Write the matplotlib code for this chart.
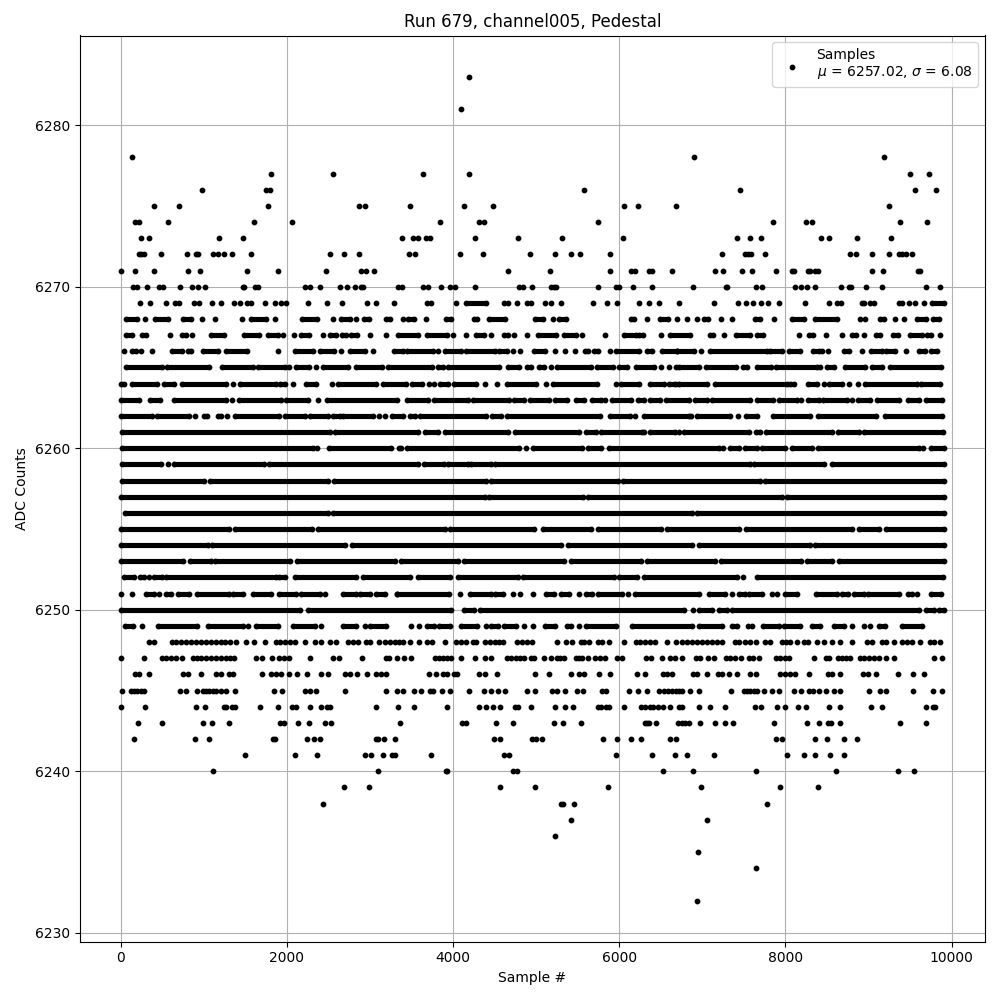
#!/usr/bin/env python3
"""Pedestal scatter: ADC counts per sample, read off the picture row by row."""
import matplotlib
matplotlib.use('Agg')
import matplotlib.pyplot as plt

# sample numbers seen at each ADC level
# a plain number is one visible dot, (a, b) is a stretch where the dots merge
s6283 = [4192]
s6281 = [4096]
s6278 = [141, 6900, 9189]
s6277 = [1807, 2555, 3641, 4192, 9502, 9731]
s6276 = [974, 1750, 1799, 5581, 7454, 9562, 9815]
s6275 = [406, 696, 1771, 2869, 2942, 3485, 4132, 4479, 6060, 6228, 6683, 9249]
s6274 = [173, 222, 575, 1601, 2060, 3844, 4311, 4375, 5748, 7851, 8249, 8321, 9381, 9707]
s6273 = [249, 346, 1179, 1469, 3389, 3521, 3581, 3673, 3721, 4263, 4778, 5317, 6040, 7418, 7574, 7707,
         8430, 8526, 8863, 9273]
s6272 = [221, 249, 282, 491, 793, 905, 933, 1107, 1171, 1243, 1336, 1565, 2519, 2688, 2869, 3473, 3545,
         4084, 4359, 4922, 5222, 5414, 5533, 5892, 7237, 7510, 7550, 7590, 7751, 8779, 8851, 9044, 9249,
         9365, 9405, 9446, 9518]
s6271 = [0, 177, 406, 805, 950, 1517, 1891, 2471, 2893, 2958, 3050, 4659, 5162, 5892, 6136, 6188, 6355,
         6395, 6639, 7153, 7249, 7478, 7598, 7888, 8080, 8104, 8273, 8297, 8361, 8393, 9044, 9177, 9598, 9622]
s6270 = [149, 201, 322, 463, 511, 708, 857, 925, 1014, 1469, 1489, 1614, 1654, 2217, 2278, 2398, 2640,
         2724, 2821, 2893, 2917, 3340, 3385, 3633, 3697, 3852, 3960, 4024, 4263, 4798, 4838, 4946, 5174,
         5210, 5238, 5748, 5964, 5996, 6168, 6395, 6892, 7285, 7301, 7647, 7719, 8116, 8189, 8261, 8357,
         8671, 8767, 8791, 8972, 9165, 9695, 9863]
s6269 = [229, 358, 551, 656, 696, 885, 938, 1095, 1203, 1368, 1441, 1517, 1565, 1734, 1863, 1928, 1992,
         2257, 2483, 2664, 2966, 3074, 3292, 3689, 3737, 4036, (4152, 4391), 4619, 4659, 4766, 4886, 4938,
         5110, 5178, 5305, 5689, 5856, 5976, 6240, 6359, 6479, 6720, 7145, 7430, 7526, 7610, 7707, 7791,
         7924, 8241, 8526, 8622, 8675, 8916, 8944, 9016, 9072, 9373, 9406, 9486, 9554, 9671, (9767, 9907)]
s6268 = [(68, 201), 298, (414, 575), (752, 845), 974, 1131, 1465, (1565, 1750), 1859, (2181, 2362), 2555,
         (2656, 2756), 2829, (2925, 2990), (3199, 3247), 3401, (3461, 3533), 3677, (3920, 3980), (4248, 4287),
         (4431, 4631), (4982, 5078), 5198, (5277, 5357), (6136, 6176), 6335, (6491, 6587), 6690, 6815, 6936,
         (7016, 7068), 7225, 7357, (7631, 7699), 7863, (8080, 8221), (8361, 8622), 8892, 8956, (9144, 9185),
         9317, 9430, (9586, 9687), (9779, 9847)]
s6267 = [(68, 141), (262, 310), 588, (732, 785), 857, (1086, 1247), (1489, 1670), (1771, 1891), 1952, 2080,
         (2173, 2261), 2434, (2515, 2596), (2664, 2716), (2777, 2845), 3002, 3195, (3341, 3581), (3689, 3928),
         4000, 4156, (4271, 4367), 4455, (4611, 4659), 4730, 4886, (5018, 5238), (5337, 5485), 5557, 5832,
         (6056, 6196), (6235, 6287), 6503, (6615, 6855), 7096, 7128, 7261, (7410, 7578), (7659, 7731), 8161,
         (8281, 8329), 8490, 8683, (8803, 8851), 8948, (9092, 9133), (9293, 9357), (9494, 9647), (9707, 9755), 9859]
s6266 = [40, (141, 189), 249, 378, (612, 736), (805, 845), (986, 1167), (1268, 1517), 1891, (2101, 2314),
         (2394, 2563), 2656, (2756, 2938), 3038, (3292, 3401), (3441, 3760), 3820, (3900, 4100), (4152, 4511),
         (4559, 4647), 4726, 4806, (4970, 5106), 5230, 5345, 5465, (5589, 5629), (5697, 5749), 5892,
         (5956, 6235), (6335, 6395), (6515, 6695), (6695, 6896), 6984, (7096, 7779), (7819, 7960), (8040, 8181),
         (8329, 8402), 8442, 8514, (8703, 8763), 8924, (9032, 9165), (9205, 9325), 9454, (9614, 9679), (9747, 9819)]
s6265 = [(68, 503), (563, 1066), (1219, 1597), (1650, 1972), 2028, (2113, 2261), 2346, (2434, 2736),
         (2829, 3139), (3219, 3752), (3820, 3880), (3940, 4559), (4667, 4790), (4886, 4938), (5038, 5098), 5174,
         (5257, 5657), (5737, 5924), (5996, 6096), (6196, 6415), 6503, 6595, 6680, (6723, 6964), (7044, 7406),
         (7486, 7538), (7659, 7831), (7892, 8382), 8422, (8502, 8582), (8723, 8964), (9044, 9165), (9265, 9867)]
s6264 = [(0, 40), (133, 443), (523, 636), (736, 1268), 1348, (1437, 1871), (1919, 1972), 2076, (2225, 2354),
         2547, (2616, 3078), (3159, 3433), (3501, 3621), 3713, 3772, (3840, 3940), (4008, 4271), 4383, 4527,
         (4647, 4998), 5118, (5198, 5737), 5956, (6016, 6235), (6375, 6535), (6595, 6715), (6675, 7056),
         (7157, 8020), (8060, 8100), (8273, 8382), 8466, (8530, 8683), 8767, 8875, (8964, 9586), (9634, 9855)]
s6263 = [(0, 221), (350, 471), (644, 1268), 1336, (1421, 1932), (1992, 2253), 2374, (2487, 3321), (3441, 3701),
         (3772, 4180), (4240, 4679), (4738, 4858), (4926, 5158), (5230, 5377), (5485, 5577), (5669, 5777), 5828,
         (5908, 6136), (6228, 6295), (6375, 6495), (6563, 6835), (6916, 7056), (7116, 7578), (7659, 7847),
         (7928, 8141), 8193, (8273, 8402), (8450, 8743), 8803, (8875, 9024), (9104, 9365), (9478, 9606), (9695, 9888)]
s6262 = [(0, 382), (443, 825), 893, (1002, 1034), (1167, 1207), 1276, (1380, 1911), (1972, 2213), (2273, 2495),
         (2555, 2636), (2676, 3038), 3110, 3179, (3271, 3401), (3481, 3541), (3601, 4399), (4471, 4579),
         (4647, 5765), (5884, 6124), 6192, (6295, 6835), 6864, (6936, 7337), 7430, (7526, 7659), (7847, 8301),
         (8390, 9092), (9197, 9879)]
s6261 = [(20, 2515), (2575, 3581), (3661, 3820), (3900, 4659), (4750, 5517), (5597, 5717), (5777, 6275), 6303,
         (6375, 6675), 6723, (6775, 7558), (7647, 7699), (7767, 8562), (8634, 8884), (8944, 9895)]
s6260 = [(12, 2314), 2362, (2507, 3259), 3350, 3369, (3441, 4798), 4878, (4958, 5557), (5629, 5777), (5876, 7197),
         7249, (7337, 7438), (7510, 7659), (7719, 8000), (8080, 8321), (8390, 9606), 9659, (9747, 9907)]
s6259 = [(12, 483), 571, (644, 1730), (1783, 3581), (3653, 3888), (3940, 4180), (4220, 4459), (4499, 7578),
         (7618, 8462), (8562, 9907)]
s6258 = [(20, 1000), (1080, 2500), (2570, 4400), (4460, 5980), (6040, 7700), (7760, 9907)]
s6257 = [(0, 4380), (4430, 5560), (5620, 7960), (8020, 9907)]
s6256 = [(50, 2500), (2560, 6880), (6940, 9907)]
s6255 = [(0, 1300), (1380, 2300), (2370, 3900), (3960, 4980), (5080, 5660), (5740, 6500), (6580, 7440),
         (7520, 8800), (8880, 9130), (9210, 9907)]
s6254 = [(0, 1050), (1100, 2700), (2780, 5300), (5380, 6880), (6960, 8300), (8360, 9907)]
s6253 = [(0, 750), (830, 1090), (1140, 2040), (2120, 3300), (3370, 4060), (4130, 5340), (5420, 6260),
         (6340, 7150), (7230, 8190), (8260, 8560), (8640, 9907)]
s6252 = [(40, 161), (229, 282), 342, (402, 503), (551, 1871), (1911, 1972), (2093, 2837), (2917, 3481),
         (3581, 3960), (4060, 4778), (4846, 5936), (5996, 6215), (6295, 7418), 7486, (7659, 9900)]
s6251 = [0, 141, (302, 402), 463, (543, 604), (684, 825), (913, 1308), (1356, 1469), (1597, 1811), (1911, 2105),
         (2173, 2394), 2455, (2676, 2837), (2877, 2998), (3070, 3179), 3320, (3329, 3952), 4088, (4200, 4459),
         (4511, 4607), 4719, 4802, 4966, (5118, 5218), (5297, 5397), 5521, (5605, 5677), (5749, 6036), 6108,
         (6188, 6956), (7076, 7277), 7357, (7446, 7518), (7566, 7719), 7839, 7904, (8000, 8141), (8369, 8622),
         (8683, 8755), (8823, 8944), (8996, 9365), (9478, 9526), 9586, (9751, 9867)]
s6250 = [(0, 2153), (2253, 3980), (4128, 4248), (4327, 6775), 6884, (6956, 7116), (7197, 7297), (7357, 9606),
         (9687, 9787), (9847, 9907)]
s6249 = [(52, 149), 258, (455, 913), (1046, 1469), 1529, (1630, 1891), (2073, 2334), 2414, (2676, 2837), 2938,
         (2998, 3199), 3497, 3593, (3681, 3768), (3832, 3960), (4100, 4287), 4399, (4459, 4539), (4619, 4758),
         4858, 4966, (5110, 5230), (5377, 5417), 5517, (5597, 5956), (6156, 6876), (6956, 7237), (7357, 7418),
         7550, 7598, (7727, 7920), (7980, 8181), (8321, 8422), (8582, 8703), 8803, 8944, 9016, (9124, 9197),
         (9406, 9647)]
s6248 = [342, 402, 612, 664, 724, 785, 845, 905, 966, 1026, 1086, 1147, 1207, 1259, 1316, 1388, 1509, 1601, 1742,
         1871, 1919, 1972, 2032, 2101, 2221, 2334, 2414, 2515, 2596, 2736, 2797, 2857, 2949, 2998, 3110, 3179,
         3239, 3300, 3352, 3401, 3481, 3593, 3681, 3741, 3900, 4032, 4092, 4152, 4240, 4279, 4379, 4439, 4499,
         4559, 4607, 4766, 4826, 4886, 4950, 5257, 5357, 5429, 5537, 5577, 5637, 5748, 5796, 5876, 6056, 6196,
         6255, 6315, 6375, 6435, 6575, 6683, 6755, 6815, 6876, 6936, 6996, 7056, 7116, 7177, 7237, 7390, 7446,
         7510, 7578, 7647, 7759, 7819, 7960, 8008, 8060, 8141, 8221, 8273, 8382, 8462, 8562, 8663, 8803, 8984,
         9044, 9165, 9213, 9309, 9406, 9466, 9526, 9626, 9735, 9787, 9855]
s6247 = [8, 286, 495, 551, 604, 664, 732, 865, 913, 966, 1026, 1086, 1147, 1207, 1268, 1316, 1368, 1634, 1702,
         1819, 1911, 1960, 2024, 2274, 2555, 2628, 2905, 3199, 3231, 3328, 3413, 3497, 3788, 3832, 3880, 3928,
         3980, 4096, 4263, 4383, 4455, 4647, 4699, 4758, 4806, 4858, 4938, 4978, 5090, 5174, 5246, 5285, 5337,
         5477, 5517, 5557, 5629, 5709, 5764, 5828, 5976, 6036, 6323, 6387, 6515, 6607, 6667, 6755, 6924, 6976,
         7068, 7145, 7285, 7337, 7397, 7462, 7558, 7606, 7679, 7888, 7940, 8000, 8048, 8341, 8490, 8530, 8634,
         8683, 8731, 8783, 8892, 8944, 9004, 9064, 9124, 9205, 9309, 9791, 9879]
s6246 = [173, 221, 342, 752, 805, 962, 1147, 1211, 1308, 1356, 1698, 1815, 1871, 1932, 2024, 2121, 2241, 2406,
         2499, 2700, 2756, 2845, 2962, 3078, 3130, 3195, 3713, 3796, 3880, 3928, 4008, 4052, 4311, 4379, 4527,
         4982, 5150, 5425, 5517, 5577, 5760, 5892, 6215, 6311, 6527, 6575, 6635, 6892, 6936, 7052, 7189, 7237,
         7325, 7418, 7578, 7647, 7940, 8000, 8060, 8112, 8285, 8514, 8562, 8663, 8936, 8996, 9092, 9357, 9538, 9671]
s6245 = [20, 121, 161, 201, 241, 281, 708, 781, 913, 986, 1026, 1066, 1107, 1147, 1207, 1268, 1380, 1851, 1936,
         2213, 2274, 2354, 2700, 3195, 3328, 3401, 3529, 3617, 3721, 3753, 3868, 3968, 4192, 4371, 4455, 4539,
         4623, 4886, 4982, 5186, 5246, 5353, 5497, 5569, 5796, 5844, 6120, 6223, 6335, 6483, 6535, 6587, 6635,
         6683, 6715, 6755, 6855, 6964, 7345, 7498, 7538, 7578, 7618, 7658, 7739, 7839, 7924, 8104, 8189, 8281,
         8329, 8406, 8490, 8586, 8659, 9008, 9141, 9213, 9538, 9779, 9888]
s6244 = [8, 298, 901, 1010, 1239, 1268, 1336, 1372, 1674, 1891, 2060, 2109, 2278, 2410, 2483, 2519, 3074, 3340,
         3533, 3928, 4311, 4395, 4479, 4563, 4742, 4778, 4934, 5222, 5353, 5449, 5748, 5784, 5844, 5880, 6056,
         6263, 6311, 6367, 6407, 6467, 6531, 6607, 6719, 6755, 6960, 7092, 7273, 7635, 7707, 7900, 7996, 8153,
         8249, 8526, 8659, 9032, 9165, 9695, 9779, 9799]
s6243 = [213, 503, 986, 1095, 1300, 1915, 1964, 2133, 2266, 2459, 2531, 3365, 4108, 4156, 4515, 4719, 5210, 5329,
         5545, 6307, 6331, 6355, 6443, 6707, 6755, 6795, 6835, 6972, 7153, 7273, 7369, 7863, 8261, 8406, 8514,
         8550, 8663, 9381, 9695]
s6242 = [165, 889, 1058, 1831, 1863, 2241, 2326, 2398, 3074, 3098, 3171, 3304, 4491, 4563, 4946, 4994, 5066, 5808,
         5976, 6144, 6263, 6610, 6683, 7888, 7960, 8357, 8502, 8707, 8863]
s6241 = [1493, 2097, 2362, 2941, 3014, 3159, 3271, 3304, 3737, 4611, 4670, 5964, 6395, 6671, 6815, 7141, 8020,
         8225, 8357, 8538, 8707]
s6240 = [1107, 3098, 3912, 3932, 4719, 4766, 6527, 6886, 7647, 8610, 9357, 9550]
s6239 = [2688, 2990, 4563, 4982, 5868, 6984, 7936, 8394]
s6238 = [2435, 5305, 5329, 5461, 7779]
s6237 = [5425, 7056]
s6236 = [5222]
s6235 = [6948]
s6234 = [7647]
s6232 = [6936]

levels = [6283, 6281, 6278, 6277, 6276, 6275, 6274, 6273, 6272, 6271, 6270, 6269, 6268, 6267, 6266, 6265, 6264,
          6263, 6262, 6261, 6260, 6259, 6258, 6257, 6256, 6255, 6254, 6253, 6252, 6251, 6250, 6249, 6248, 6247,
          6246, 6245, 6244, 6243, 6242, 6241, 6240, 6239, 6238, 6237, 6236, 6235, 6234, 6232]
samples = [s6283, s6281, s6278, s6277, s6276, s6275, s6274, s6273, s6272, s6271, s6270, s6269, s6268, s6267, s6266,
           s6265, s6264, s6263, s6262, s6261, s6260, s6259, s6258, s6257, s6256, s6255, s6254, s6253, s6252, s6251,
           s6250, s6249, s6248, s6247, s6246, s6245, s6244, s6243, s6242, s6241, s6240, s6239, s6238, s6237, s6236,
           s6235, s6234, s6232]

mean_label = 6257.02
sigma_label = 6.08

# split into dots and merged stretches
dot_x, dot_y = [], []
run_y, run_start, run_end = [], [], []
for level, row in zip(levels, samples):
    for item in row:
        if isinstance(item, tuple):
            dot_x += list(item)
            dot_y += [level, level]
            run_y.append(level)
            run_start.append(item[0])
            run_end.append(item[1])
        else:
            dot_x.append(item)
            dot_y.append(level)

fig, ax = plt.subplots(figsize=(10, 10))
ax.hlines(run_y, run_start, run_end, colors='k', linewidth=3.7, zorder=2)
ax.scatter(dot_x, dot_y, s=10, c='k', zorder=2,
           label=f'Samples\n$\\mu$ = {mean_label:.2f}, $\\sigma$ = {sigma_label:.2f}')
ax.set_title('Run 679, channel005, Pedestal')
ax.set_xlabel('Sample #')
ax.set_ylabel('ADC Counts')
ax.grid(True)
ax.legend(loc='upper right')
fig.tight_layout()
fig.subplots_adjust(top=0.9645)
fig.savefig('out.png', dpi=100)
